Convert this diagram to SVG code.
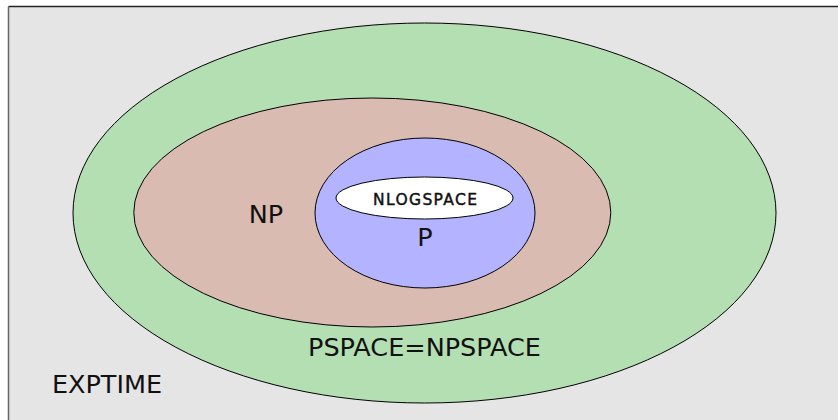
<svg xmlns="http://www.w3.org/2000/svg" width="838" height="420" viewBox="0 0 838 420">
  <style>
    .set { stroke: #000; stroke-width: 1; }
    .label { font-family: "DejaVu Sans", Verdana, sans-serif; font-size: 25.5px; fill: #111; text-anchor: middle; }
    .small { font-family: "DejaVu Sans", Verdana, sans-serif; font-size: 15.5px; fill: #111; stroke: #111; stroke-width: 0.45; text-anchor: middle; }
  </style>
  <!-- page background and frame -->
  <rect x="0" y="0" width="838" height="420" fill="#ffffff"/>
  <rect x="8.5" y="6.5" width="840" height="420" fill="#e5e5e5"/>
  <line x1="8.5" y1="6.5" x2="838" y2="6.5" stroke="#222" stroke-width="1.5"/>
  <line x1="8.5" y1="6.5" x2="8.5" y2="420" stroke="#666" stroke-width="1.5"/>

  <g id="exptime">
    <text class="label" x="107" y="392.5">EXPTIME</text>
  </g>
  <g id="pspace">
    <ellipse class="set" cx="424.5" cy="213" rx="351.5" ry="190" fill="#b3dfb3"/>
    <text class="label" x="424.5" y="356">PSPACE=NPSPACE</text>
  </g>
  <g id="np">
    <ellipse class="set" cx="372.3" cy="212.5" rx="238.5" ry="114.5" fill="#d9bbb2"/>
    <text class="label" x="266" y="222.7">NP</text>
  </g>
  <g id="p">
    <ellipse class="set" cx="425" cy="213" rx="110" ry="75" fill="#b3b3ff"/>
    <text class="label" x="425" y="245.7" font-size="26">P</text>
  </g>
  <g id="nlogspace">
    <ellipse class="set" cx="424.5" cy="198" rx="88.5" ry="21" fill="#ffffff"/>
    <text class="small" x="425" y="204.7" textLength="104" lengthAdjust="spacing">NLOGSPACE</text>
  </g>
  <g id="connectors"/>
</svg>
